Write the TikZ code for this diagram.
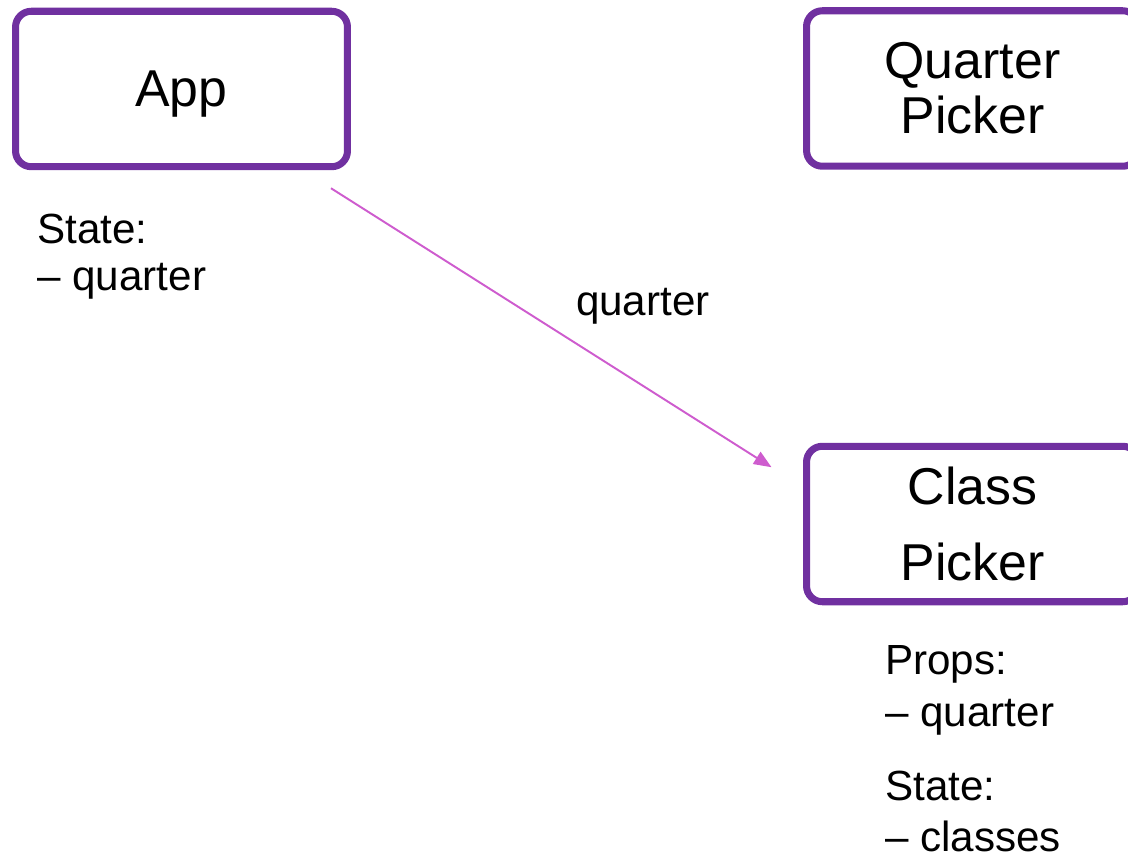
\documentclass[tikz,border=0pt]{standalone}
\usepackage{fontspec}
\setmainfont{Liberation Sans}
\usetikzlibrary{positioning,arrows.meta,calc}
\definecolor{boxpurple}{RGB}{112,48,160}
\definecolor{flowpink}{RGB}{206,92,206}

\begin{document}
\begin{tikzpicture}[x=0.02cm,y=-0.02cm,>={Triangle[length=10pt,width=8pt]},
  comp/.style={draw=boxpurple,line width=4pt,rounded corners=9pt,minimum width=6.64cm,minimum height=3.11cm,align=center},
  note/.style={anchor=north west,inner sep=0pt,align=left}]
  \useasboundingbox (0,0) rectangle (1128,857);
  \clip (0,0) rectangle (1128,857);

  \node[comp,text depth=0pt,font=\fontsize{29.5}{31}\selectfont] (app) at (181.5,89) {App};
  \node[comp,font=\fontsize{29.5}{31.2}\selectfont] (qpick) at (972.5,88.5) {Quarter\\Picker};
  \node[comp,font=\fontsize{29.5}{43}\selectfont] (cpick) at (972.5,524) {Class\\Picker};

  \node[note,font=\fontsize{24}{26.7}\selectfont] (appstate) at (37,214) {State:\\– quarter};
  \node[note,font=\fontsize{24}{29.5}\selectfont] (cprops) at (885,645) {Props:\\– quarter};
  \node[note,font=\fontsize{24}{29}\selectfont] (cstate) at (885,771) {State:\\– classes};

  \coordinate (qstart) at ($(app.south east)+(-20,18)$);
  \coordinate (qend) at ($(cpick.north west)+(-31.5,24.5)$);
  \draw[->,flowpink,line width=1.1pt] (qstart) -- node[anchor=base west,xshift=0.36cm,yshift=0.24cm,text=black,font=\fontsize{24}{27}\selectfont] (qlbl) {quarter} (qend);
\end{tikzpicture}
\end{document}
